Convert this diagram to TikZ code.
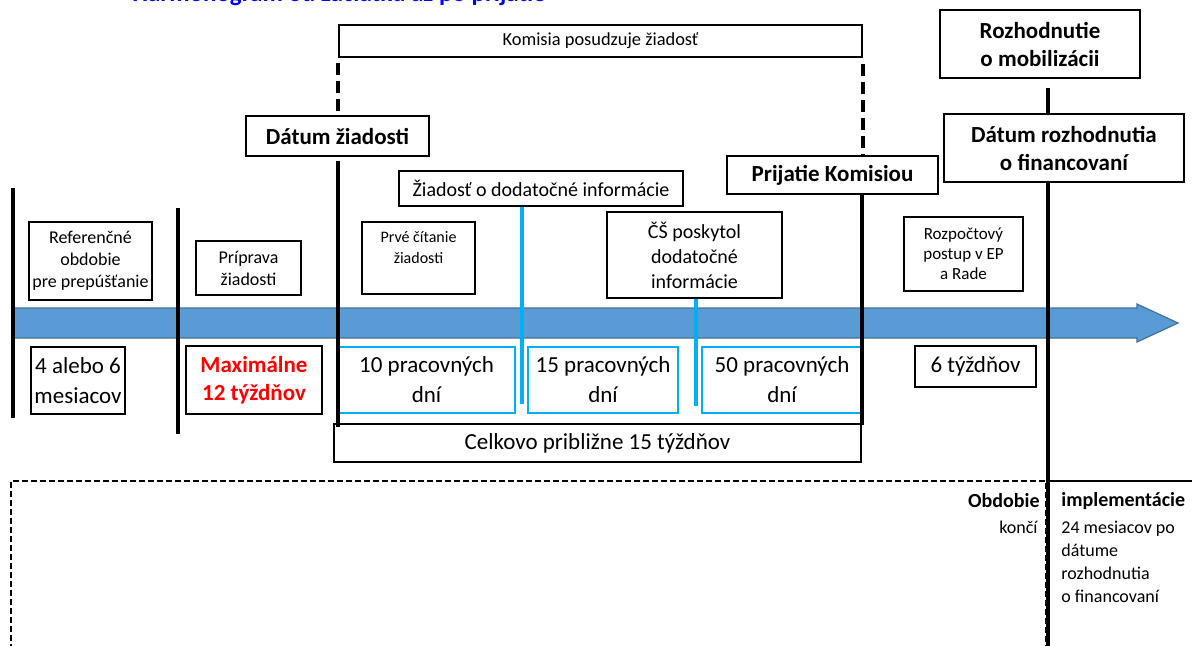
\documentclass[tikz,border=0pt]{standalone}
\usepackage{fontspec}
\setmainfont{Carlito}

\definecolor{modra}{HTML}{0000FF}
\definecolor{sipka}{HTML}{5B9BD5}
\definecolor{okraj}{HTML}{41719C}
\definecolor{tyrkys}{HTML}{00B0F0}
\definecolor{cervena}{HTML}{FF0000}

\tikzset{
  ramik/.style={draw, line width=0.8pt, fill=white, align=center, inner sep=0pt},
  modryramik/.style={ramik, draw=tyrkys},
  hrubo/.style={font=\fontsize{11.5}{14}\selectfont\bfseries},
  velky/.style={font=\fontsize{11.5}{15}\selectfont},
  stredny/.style={font=\fontsize{10}{12.5}\selectfont},
  maly/.style={font=\fontsize{9}{11}\selectfont},
  drobny/.style={font=\fontsize{8.5}{10}\selectfont},
  ciara/.style={line width=2pt},
  ciarkovana/.style={line width=2pt, dash pattern=on 6pt off 3pt},
  modraciara/.style={draw=tyrkys, line width=2pt},
}

\begin{document}
\begin{tikzpicture}[x=0.5pt,y=-0.5pt]
\useasboundingbox (0,0) rectangle (1192,645);

% Nadpis
\node[font=\fontsize{12.5}{15}\selectfont\bfseries, text=modra, anchor=base, inner sep=0pt] (nadpis) at (339,1) {Harmonogram od začiatku až po prijatie};

% Os
\filldraw[fill=sipka, draw=okraj, line width=0.6pt] (13,308) -- (1137,308) -- (1137,304) -- (1178,323) -- (1137,342) -- (1137,338) -- (13,338) -- cycle;

% Horne ramiky
\node[ramik, font=\fontsize{9.2}{11}\selectfont, minimum width=261.5pt, minimum height=16pt] (komisia) at (600.5,41) {Komisia posudzuje žiadosť};
\node[ramik, hrubo, minimum width=91.5pt, minimum height=20pt] (datumZ) at (337.5,136) {Dátum žiadosti};
\node[ramik, hrubo, minimum width=105.5pt, minimum height=19pt] (prijatie) at (832.5,175) {Prijatie Komisiou};
\node[ramik, hrubo, minimum width=100pt, minimum height=34pt] (mobil) at (1040,44) {Rozhodnutie\\o mobilizácii};
\node[ramik, hrubo, minimum width=120pt, minimum height=34pt] (datumR) at (1064,148) {Dátum rozhodnutia\\o financovaní};

% Faza
\node[ramik, maly, minimum width=61.5pt, minimum height=39pt] (referencne) at (90.5,261) {Referenčné\\obdobie\\pre prepúšťanie};
\node[ramik, maly, minimum width=52.5pt, minimum height=27pt] (priprava) at (248.5,268) {Príprava\\žiadosti};
\node[ramik, font=\fontsize{8}{10.5}\selectfont, minimum width=56.5pt, minimum height=36pt] (prve) at (418.5,258) {Prvé čítanie\\žiadosti\\~};
\node[ramik, stredny, minimum width=142pt, minimum height=17.5pt] (ziadostDI) at (541,188.5) {Žiadosť o dodatočné informácie};
\node[ramik, stredny, minimum width=87.5pt, minimum height=43pt] (cs) at (694.5,255) {ČŠ poskytol\\dodatočné\\informácie};
\node[ramik, drobny, minimum width=59.5pt, minimum height=37pt] (rozpocet) at (963.5,254) {Rozpočtový\\postup v EP\\a Rade};

% Trvanie
\node[ramik, velky, minimum width=47pt, minimum height=33.5pt] (mesiace) at (78,380.5) {4 alebo 6\\mesiacov};
\node[ramik, hrubo, text=cervena, minimum width=68pt, minimum height=34pt] (maxim) at (254,380) {Maximálne\\12 týždňov};
\node[modryramik, velky, minimum width=88.5pt, minimum height=33pt] (d10) at (426.5,380) {10 pracovných\\dní};
\node[modryramik, velky, minimum width=75pt, minimum height=33pt] (d15) at (603,380) {15 pracovných\\dní};
\node[modryramik, velky, minimum width=80pt, minimum height=33pt] (d50) at (782,380) {50 pracovných\\dní};
\node[ramik, velky, minimum width=60.5pt, minimum height=20.5pt] (tyz6) at (975.5,366.5) {6 týždňov};
\node[ramik, velky, minimum width=263.5pt, minimum height=19pt] (celkovo) at (597.5,443) {Celkovo približne 15 týždňov};

% Konce ciar
\coordinate (l1a) at (13,188);
\coordinate (l1b) at (13,418);
\coordinate (l2a) at (178,208);
\coordinate (l2b) at (178,434);
\coordinate (l3b) at (337.5,427);
\coordinate (l4b) at (862,425);
\coordinate (l5b) at (1048,650);
\coordinate (m1) at (522,404);
\coordinate (m2) at (696,406);

% Ciary
\draw[ciara] (l1a) -- (l1b);
\draw[ciara] (l2a) -- (l2b);
\draw[ciara, shorten <=2pt] (datumZ.south) -- (l3b);
\draw[ciara] (prijatie.south -| l4b) -- (l4b);
\draw[ciara, shorten <=4.5pt] (mobil.south -| l5b) -- (datumR.north -| l5b);
\draw[ciara] (datumR.south -| l5b) -- (l5b);
\draw[ciarkovana, shorten <=2.5pt, shorten >=2pt] (komisia.south west) -- (komisia.south west |- datumZ.north);
\draw[ciarkovana, shorten <=3pt, shorten >=0.5pt] (komisia.south east) -- (komisia.south east |- prijatie.north);
\draw[modraciara] (ziadostDI.south -| m1) -- (m1);
\draw[modraciara] (cs.south -| m2) -- (m2);

% Obdobie implementacie
\draw[line width=0.6pt, dash pattern=on 3pt off 1.5pt] (11,650) -- (11,481) -- (1046,481) -- (1046,650);
\draw[line width=0.8pt] (1050,481) -- (1192,481);
\node[font=\fontsize{10}{12}\selectfont\bfseries, anchor=base east, inner sep=0pt] (obdobie) at (1040,507) {Obdobie};
\node[maly, anchor=base east, inner sep=0pt] (konci) at (1038,533) {končí};
\node[font=\fontsize{10}{12}\selectfont\bfseries, anchor=base west, inner sep=0pt] (impl) at (1061,506) {implementácie};
\node[font=\fontsize{9}{11.5}\selectfont, align=left, anchor=north west, inner sep=0pt] (popis) at (1061,520.5) {24 mesiacov po\\dátume\\rozhodnutia\\o financovaní};
\end{tikzpicture}
\end{document}
